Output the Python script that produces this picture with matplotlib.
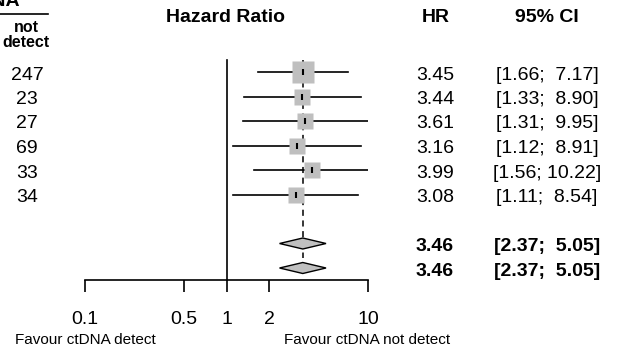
import numpy as np
import matplotlib
matplotlib.use("Agg")
import matplotlib.pyplot as plt

plt.rcParams["font.family"] = ["Liberation Sans", "DejaVu Sans"]

# datos de los estudios
n_not_detect = [247, 23, 27, 69, 33, 34]
hr = [3.45, 3.44, 3.61, 3.16, 3.99, 3.08]
ci_low = [1.66, 1.33, 1.31, 1.12, 1.56, 1.11]
ci_high = [7.17, 8.90, 9.95, 8.91, 10.22, 8.54]
weight = [27.1, 15.7, 13.8, 13.8, 15.7, 13.8]

# modelos combinados (común / aleatorio)
pooled_hr = [3.46, 3.46]
pooled_low = [2.37, 2.37]
pooled_high = [5.05, 5.05]

x_ticks = [0.1, 0.5, 1, 2, 10]
x_ticklabels = ["0.1", "0.5", "1", "2", "10"]

W, H = 618, 351
DPI = 100
FS = 14

fig = plt.figure(figsize=(W / DPI, H / DPI), dpi=DPI)

# filas: 24.5 px entre filas, primera fila a 72 px desde arriba
row0_px, step_px = 72, 24.5
ax = fig.add_axes([85 / W, 0, (368 - 85) / W, 1])
ax.set_xscale("log")
ax.set_xlim(0.1, 10)
ax.set_ylim((H - row0_px) / step_px, -row0_px / step_px)

rows = np.arange(len(hr))
pooled_rows = len(hr) + 1 + np.arange(len(pooled_hr))
axis_row = (280 - row0_px) / step_px
top_row = (60 - row0_px) / step_px

# línea de no efecto y línea del estimador combinado
ax.plot([1, 1], [top_row, axis_row], color="black", lw=1.2, zorder=1)
ax.plot([pooled_hr[0]] * 2, [top_row, (258 - row0_px) / step_px], color="black",
        lw=1.1, ls=(0, (4, 3)), zorder=1)

# intervalos y cuadrados
side_px = 22 * np.sqrt(np.array(weight) / max(weight))
for i in rows:
    ax.plot([ci_low[i], ci_high[i]], [i, i], color="black", lw=1.2, zorder=2)
    ax.plot(hr[i], i, marker="s", ms=side_px[i] * 0.72, color="#bfbfbf", mec="none", zorder=3)
    ax.plot(hr[i], i, marker="|", ms=5, mew=1.5, color="black", zorder=4)

# diamantes
for k, r in enumerate(pooled_rows):
    h = 5.5 / step_px
    xs = [pooled_low[k], pooled_hr[k], pooled_high[k], pooled_hr[k], pooled_low[k]]
    ys = [r, r - h, r, r + h, r]
    ax.fill(xs, ys, facecolor="#c0c0c0", edgecolor="black", lw=1.0, zorder=3)

for s in ["top", "right", "left"]:
    ax.spines[s].set_visible(False)
ax.spines["bottom"].set_position(("data", axis_row))
ax.spines["bottom"].set_bounds(0.1, 10)
ax.spines["bottom"].set_linewidth(1.2)
ax.set_yticks([])
ax.set_xticks(x_ticks)
ax.set_xticklabels(x_ticklabels, fontsize=FS)
ax.xaxis.set_minor_locator(matplotlib.ticker.NullLocator())
ax.tick_params(axis="x", length=8.6, width=1.2, pad=14)
ax.patch.set_visible(False)


def px(x, y):
    return x / W, 1 - y / H


def row_y(r):
    return row0_px + r * step_px


# cabeceras
fig.text(*px(20, 6), "ctDNA", ha="right", va="baseline", fontsize=FS, fontweight="bold")
fig.add_artist(plt.Line2D([0, 48 / W], [1 - 14 / H] * 2, color="black", lw=1.2))
fig.text(*px(26, 35), "not\ndetect", ha="center", va="center", fontsize=11.5,
         fontweight="bold", linespacing=1.0)
fig.text(*px(225, 17), "Hazard Ratio", ha="center", va="center", fontsize=FS, fontweight="bold")
fig.text(*px(436, 17), "HR", ha="center", va="center", fontsize=FS, fontweight="bold")
fig.text(*px(547, 17), "95% CI", ha="center", va="center", fontsize=FS, fontweight="bold")

for i in rows:
    y = row_y(i) + 1
    fig.text(*px(27, y), str(n_not_detect[i]), ha="center", va="center_baseline", fontsize=FS)
    fig.text(*px(454, y), f"{hr[i]:.2f}", ha="right", va="center_baseline", fontsize=FS)
    fig.text(*px(547, y), f"[{ci_low[i]:.2f};{ci_high[i]:6.2f}]", ha="center",
             va="center_baseline", fontsize=FS)

for k, r in enumerate(pooled_rows):
    y = row_y(r) + 1
    fig.text(*px(454, y), f"{pooled_hr[k]:.2f}", ha="right", va="center_baseline",
             fontsize=FS, fontweight="bold")
    fig.text(*px(547, y), f"[{pooled_low[k]:.2f};{pooled_high[k]:6.2f}]", ha="center",
             va="center_baseline", fontsize=FS, fontweight="bold")

fig.text(*px(85, 340), "Favour ctDNA detect", ha="center", va="center", fontsize=11)
fig.text(*px(367, 340), "Favour ctDNA not detect", ha="center", va="center", fontsize=11)

fig.savefig("out.png", dpi=DPI)
